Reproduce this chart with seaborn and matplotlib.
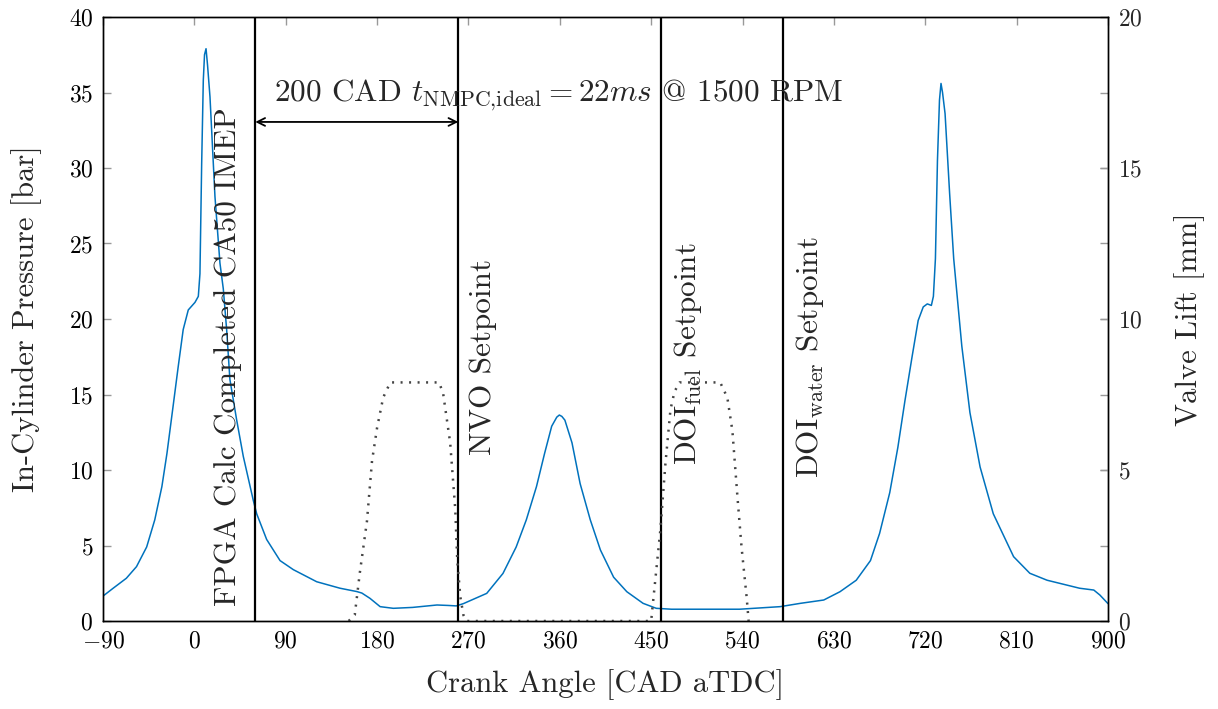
import matplotlib
matplotlib.use("Agg")
import matplotlib.pyplot as plt
import seaborn as sns
import pandas as pd

# ---- data ----
cad = [-90, -80, -67, -57, -47, -39, -32, -27, -21, -16, -11, -6, 0.6, 3.9, 5.5, 7.2, 8.8,
       10, 11.5, 13, 15.4, 20.3, 25.2, 28.5, 31.8, 35, 41.7, 48.2, 58, 61.4, 71.2, 84.4,
       97.5, 120.5, 143.5, 160, 165, 173, 183, 196, 215, 230, 239, 250, 258, 265, 288, 304,
       317, 327, 337, 345, 352, 357, 359.5, 362, 365, 372, 380, 390, 400, 413, 426, 442,
       455, 470, 500, 537, 577, 597, 620, 636, 652, 666, 675, 685, 693, 700, 707, 713, 718,
       722, 726, 728, 730, 732, 734, 735.5, 737, 739.5, 744, 748, 756, 764, 774, 787, 807,
       823, 840, 872, 886, 892, 900]
pressure = [1.65, 2.17, 2.83, 3.6, 4.9, 6.7, 8.9, 11.1, 14.2, 16.8, 19.3, 20.6, 21.1, 21.5,
            23.0, 30.3, 35.8, 37.5, 37.9, 36.8, 34.7, 28.1, 23.7, 22.0, 19.3, 16.0, 13.3,
            10.9, 8.0, 7.1, 5.4, 4.0, 3.4, 2.6, 2.17, 1.95, 1.85, 1.5, 0.95, 0.84, 0.9, 1.0,
            1.06, 1.03, 1.0, 1.15, 1.83, 3.15, 4.9, 6.7, 8.9, 11.1, 12.9, 13.5, 13.64, 13.55,
            13.3, 11.8, 9.1, 6.7, 4.7, 2.9, 1.94, 1.17, 0.84, 0.78, 0.78, 0.78, 0.95, 1.17,
            1.39, 1.94, 2.7, 4.0, 5.8, 8.5, 11.5, 14.6, 17.5, 19.9, 20.8, 21.0, 20.9, 21.5,
            24.0, 30.5, 34.5, 35.6, 35.0, 33.6, 28.3, 24.0, 18.2, 13.8, 10.2, 7.1, 4.26, 3.16,
            2.7, 2.17, 2.05, 1.72, 1.15]

lift_cad = [152, 158, 163, 170, 175, 180, 186, 193, 200, 241, 245, 252, 257, 259, 262, 265,
            268, 270, 450, 451, 459, 464, 469, 473, 478, 518, 525, 530, 535, 539, 544, 546]
lift_mm = [0, 0.2, 1.6, 3.3, 5.3, 6.4, 7.4, 7.9, 7.9, 7.9, 7.55, 5.9, 3.7, 2.0, 0.8, 0.2,
           0, 0, 0, 0.35, 3.0, 5.2, 7.0, 7.6, 7.9, 7.9, 7.4, 6.3, 4.1, 2.45, 0.8, 0]

event_cad = [60, 260, 460, 580]
x_ticks = [-90, 0, 90, 180, 270, 360, 450, 540, 630, 720, 810, 900]

# ---- style ----
sns.set_theme(style="white")
plt.rcParams["font.family"] = ["cmr10"]
plt.rcParams["mathtext.fontset"] = "cm"
plt.rcParams["axes.formatter.use_mathtext"] = True
plt.rcParams["axes.unicode_minus"] = True

fig = plt.figure(figsize=(12.18, 7.09), dpi=100)
ax = fig.add_axes([103 / 1218, 1 - 621 / 709, 1005 / 1218, 604 / 709])
ax2 = ax.twinx()

df_p = pd.DataFrame({"cad": cad, "p": pressure})
df_l = pd.DataFrame({"cad": lift_cad, "l": lift_mm})

sns.lineplot(data=df_p, x="cad", y="p", ax=ax, color="#0072BD", lw=1.1,
             sort=False, estimator=None)
sns.lineplot(data=df_l, x="cad", y="l", ax=ax2, color="#444444", lw=1.8,
             linestyle=(0, (0.8, 2.6)), sort=False, estimator=None)

for xv in event_cad:
    ax.axvline(xv, color="black", lw=1.6, zorder=3)

ax.set_xlim(-90, 900)
ax.set_ylim(0, 40)
ax2.set_ylim(0, 20)
ax.set_xticks(x_ticks)
ax.set_yticks(range(0, 41, 5))
ax2.set_yticks(range(0, 21, 5))

ax.set_xlabel("Crank Angle [CAD aTDC]", fontsize=22, labelpad=12)
ax.set_ylabel("In-Cylinder Pressure [bar]", fontsize=22, labelpad=19)
ax2.set_ylabel("Valve Lift [mm]", fontsize=22, labelpad=23)

for a in (ax, ax2):
    for s in a.spines.values():
        s.set_color("black")
        s.set_linewidth(1.0)
ax.tick_params(axis="both", which="both", direction="in", length=6, width=1,
               color="#999999", labelsize=17, top=True, right=True,
               labelcolor="black", pad=7)
ax2.tick_params(axis="y", direction="in", length=6, width=1, color="#999999",
                labelsize=17, pad=7)

# annotations
ax.annotate("", xy=(60, 33.05), xytext=(260, 33.05),
            arrowprops=dict(arrowstyle="<->", color="black", lw=1.3,
                            shrinkA=0, shrinkB=0, mutation_scale=14))
ax.text(359, 34.4, r"200 CAD $t_{\mathrm{NMPC{,}ideal}} = 22ms$ @ 1500 RPM",
        fontsize=22.5, ha="center", va="baseline")
ax.text(33, 1.0, "FPGA Calc Completed CA50 IMEP", rotation=90, fontsize=22.5,
        ha="center", va="bottom")
ax.text(284, 11.0, "NVO Setpoint", rotation=90, fontsize=22.5, ha="center", va="bottom")
ax.text(486, 10.3, r"DOI$_{\mathrm{fuel}}$ Setpoint", rotation=90, fontsize=22.5,
        ha="center", va="bottom")
ax.text(606, 9.5, r"DOI$_{\mathrm{water}}$ Setpoint", rotation=90, fontsize=22.5,
        ha="center", va="bottom")

fig.savefig("out.png", dpi=100)
